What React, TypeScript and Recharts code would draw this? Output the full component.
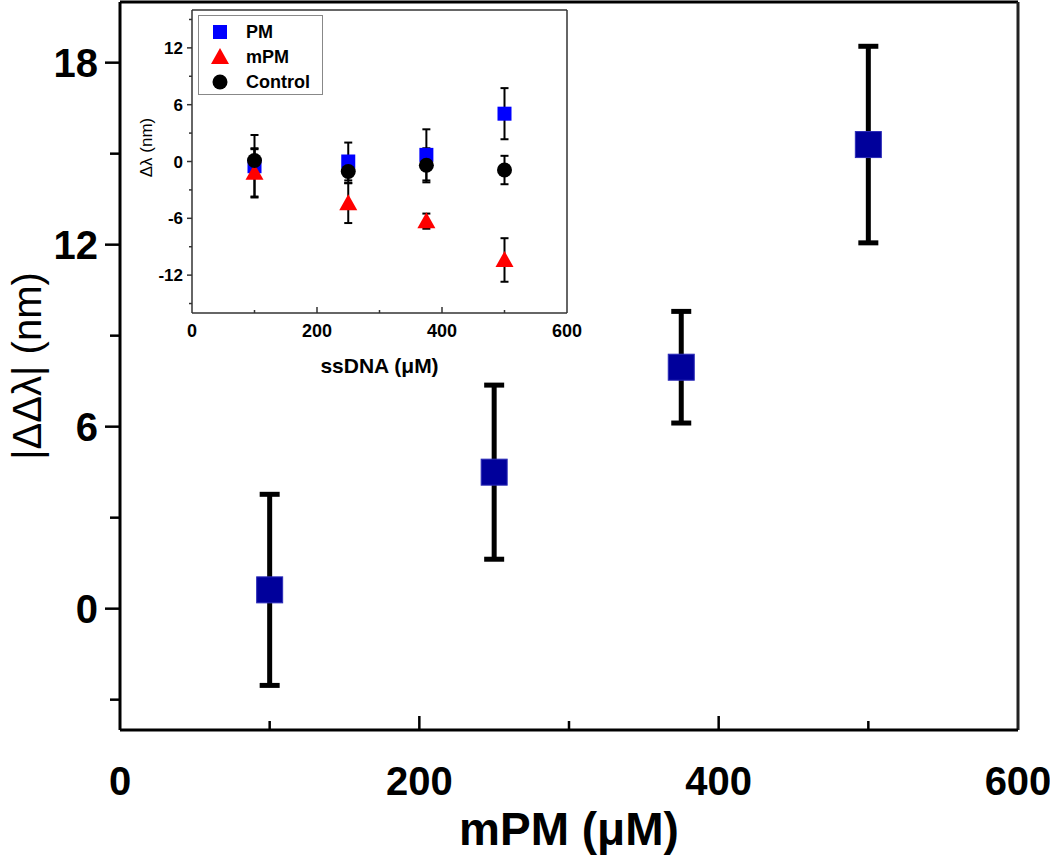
import { ScatterChart, Scatter, XAxis, YAxis, ErrorBar, ReferenceLine, Legend } from "recharts";

const FONT = "'Liberation Sans', Arial, sans-serif";

// main chart: |ΔΔλ| vs mPM concentration
const mainX = [100, 250, 375, 500];
const mainY = [0.62, 4.5, 7.96, 15.3];
const mainErr = [3.15, 2.87, 1.84, 3.24];
const mainXTicks = [0, 100, 200, 300, 400, 500, 600];
const mainYTicks = [-3, 0, 3, 6, 9, 12, 15, 18];

// inset: Δλ vs ssDNA concentration
const insetX = [100, 250, 375, 500];
const pmY = [-0.5, 0.0, 0.7, 5.05];
const pmErr = [3.3, 2.0, 2.7, 2.7];
const mpmY = [-1.2, -4.4, -6.3, -10.4];
const mpmErr = [2.5, 2.1, 0.8, 2.3];
const ctrlY = [0.1, -1.06, -0.4, -0.9];
const ctrlErr = [1.3, 1.2, 1.8, 1.5];
const insetXTicks = [0, 100, 200, 300, 400, 500, 600];
const insetYTicks = [-15, -12, -9, -6, -3, 0, 3, 6, 9, 12, 15];

const toPoints = (xs: number[], ys: number[], errs: number[]) =>
  xs.map((x, i) => ({ x, y: ys[i], err: errs[i] }));

const mainData = toPoints(mainX, mainY, mainErr);
const pmData = toPoints(insetX, pmY, pmErr);
const mpmData = toPoints(insetX, mpmY, mpmErr);
const ctrlData = toPoints(insetX, ctrlY, ctrlErr);

const MainXTick = (props: any) => {
  const { x, y, payload } = props;
  const v = payload.value;
  const major = v % 200 === 0;
  return (
    <g>
      {v > 0 && v < 600 && (
        <line x1={x} y1={y} x2={x} y2={y - (major ? 14 : 9)} stroke="#000" strokeWidth={2.5} />
      )}
      {major && (
        <text x={x} y={y + 65} textAnchor="middle" fontSize={40} fontWeight="bold" fontFamily={FONT} fill="#000">
          {v}
        </text>
      )}
    </g>
  );
};

const MainYTick = (props: any) => {
  const { x, y, payload } = props;
  const v = payload.value;
  const major = v % 6 === 0;
  return (
    <g>
      <line x1={x} y1={y} x2={x - (major ? 15 : 10)} y2={y} stroke="#000" strokeWidth={2.5} />
      {major && (
        <text x={x - 22} y={y} dy="0.36em" textAnchor="end" fontSize={40} fontWeight="bold" fontFamily={FONT} fill="#000">
          {v}
        </text>
      )}
    </g>
  );
};

const InsetXTick = (props: any) => {
  const { x, y, payload } = props;
  const v = payload.value;
  const major = v % 200 === 0;
  return (
    <g>
      {v > 0 && v < 600 && (
        <line x1={x} y1={y} x2={x} y2={y - (major ? 6 : 3)} stroke="#333" strokeWidth={1.5} />
      )}
      {major && (
        <text x={x} y={y + 24} textAnchor="middle" fontSize={18} fontWeight="bold" fontFamily={FONT} fill="#000">
          {v}
        </text>
      )}
    </g>
  );
};

const InsetYTick = (props: any) => {
  const { x, y, payload } = props;
  const v = payload.value;
  const major = v % 6 === 0;
  return (
    <g>
      <line x1={x} y1={y} x2={x - (major ? 5 : 3)} y2={y} stroke="#333" strokeWidth={1.5} />
      {major && (
        <text x={x - 9} y={y} dy="0.36em" textAnchor="end" fontSize={17} fontWeight="bold" fontFamily={FONT} fill="#000">
          {v}
        </text>
      )}
    </g>
  );
};

const BigSquare = (props: any) => {
  const { cx, cy } = props;
  return <rect x={cx - 13} y={cy - 13} width={26} height={26} fill="#00009B" stroke="#2a2ab8" strokeWidth={1} />;
};

const SmallSquare = (props: any) => {
  const { cx, cy } = props;
  return <rect x={cx - 7} y={cy - 7} width={14} height={14} fill="#0000FF" />;
};

const Triangle = (props: any) => {
  const { cx, cy } = props;
  return <polygon points={`${cx},${cy - 9} ${cx + 9},${cy + 7} ${cx - 9},${cy + 7}`} fill="#FF0000" />;
};

const Dot = (props: any) => {
  const { cx, cy } = props;
  return <circle cx={cx} cy={cy} r={7.5} fill="#000" />;
};

const legendItems = [
  { name: "PM", icon: (cx: number, cy: number) => <rect x={cx - 7} y={cy - 7} width={14} height={14} fill="#0000FF" /> },
  { name: "mPM", icon: (cx: number, cy: number) => <polygon points={`${cx},${cy - 9} ${cx + 9},${cy + 7} ${cx - 9},${cy + 7}`} fill="#FF0000" /> },
  { name: "Control", icon: (cx: number, cy: number) => <circle cx={cx} cy={cy} r={7.5} fill="#000" /> },
];

const InsetLegend = () => (
  <svg width={125} height={80} style={{ display: "block" }}>
    <rect x={0.5} y={0.5} width={124} height={79} fill="#fff" stroke="#888" strokeWidth={1} />
    {legendItems.map((item, i) => (
      <g key={item.name}>
        {item.icon(22, 17 + i * 25)}
        <text x={48} y={17 + i * 25} dy="0.36em" fontSize={18} fontWeight="bold" fontFamily={FONT} fill="#000">
          {item.name}
        </text>
      </g>
    ))}
  </svg>
);

export default function App() {
  return (
    <div style={{ position: "absolute", left: 0, top: 0, width: 1050, height: 862, background: "#fff", fontFamily: FONT }}>
      <ScatterChart width={1050} height={862} margin={{ top: 2, right: 32, bottom: 0, left: 0 }}>
        <XAxis
          type="number"
          dataKey="x"
          domain={[0, 600]}
          ticks={mainXTicks}
          interval={0}
          tick={<MainXTick />}
          tickLine={false}
          tickSize={0}
          tickMargin={0}
          axisLine={{ stroke: "#000", strokeWidth: 3 }}
          height={132}
          label={{
            content: (p: any) => {
              const vb = p.viewBox;
              return (
                <text x={vb.x + vb.width / 2} y={vb.y + 115} textAnchor="middle" fontSize={46} fontWeight="bold" fontFamily={FONT} fill="#000">
                  mPM (μM)
                </text>
              );
            },
          }}
        />
        <YAxis
          type="number"
          dataKey="y"
          domain={[-4, 20]}
          ticks={mainYTicks}
          interval={0}
          tick={<MainYTick />}
          tickLine={false}
          tickSize={0}
          tickMargin={0}
          axisLine={{ stroke: "#000", strokeWidth: 3 }}
          width={120}
          label={{
            content: (p: any) => {
              const vb = p.viewBox;
              const lx = 27;
              const ly = vb.y + vb.height / 2;
              return (
                <text x={lx} y={ly} transform={`rotate(-90 ${lx} ${ly})`} textAnchor="middle" dominantBaseline="central" fontSize={40} fontFamily={FONT} fill="#000">
                  |ΔΔλ| (nm)
                </text>
              );
            },
          }}
        />
        <ReferenceLine y={20} stroke="#000" strokeWidth={3} />
        <ReferenceLine x={600} stroke="#222" strokeWidth={3} />
        <Scatter data={mainData} shape={<BigSquare />} isAnimationActive={false}>
          <ErrorBar dataKey="err" direction="y" width={10} strokeWidth={5} stroke="#000" />
        </Scatter>
      </ScatterChart>

      <div style={{ position: "absolute", left: 130, top: 0 }}>
        <ScatterChart width={480} height={390} margin={{ top: 10, right: 43, bottom: 0, left: 0 }}>
          <XAxis
            type="number"
            dataKey="x"
            domain={[0, 600]}
            ticks={insetXTicks}
            interval={0}
            tick={<InsetXTick />}
            tickLine={false}
            tickSize={0}
            tickMargin={0}
            axisLine={{ stroke: "#333", strokeWidth: 1.5 }}
            height={77}
            label={{
              content: (p: any) => {
                const vb = p.viewBox;
                return (
                  <text x={vb.x + vb.width / 2} y={vb.y + 60} textAnchor="middle" fontSize={21} fontWeight="bold" fontFamily={FONT} fill="#000">
                    ssDNA (μM)
                  </text>
                );
              },
            }}
          />
          <YAxis
            type="number"
            dataKey="y"
            domain={[-16, 16]}
            ticks={insetYTicks}
            interval={0}
            tick={<InsetYTick />}
            tickLine={false}
            tickSize={0}
            tickMargin={0}
            axisLine={{ stroke: "#333", strokeWidth: 1.5 }}
            width={62}
            label={{
              content: (p: any) => {
                const vb = p.viewBox;
                const lx = 16;
                const ly = vb.y + vb.height / 2 - 14;
                return (
                  <text x={lx} y={ly} transform={`rotate(-90 ${lx} ${ly})`} textAnchor="middle" dominantBaseline="central" fontSize={17} fontFamily={FONT} fill="#000">
                    Δλ (nm)
                  </text>
                );
              },
            }}
          />
          <ReferenceLine y={16} stroke="#333" strokeWidth={1.5} />
          <ReferenceLine x={600} stroke="#333" strokeWidth={1.5} />
          <Legend
            layout="horizontal"
            verticalAlign="middle"
            align="center"
            wrapperStyle={{ left: 68, top: 15, width: 125, height: 80 }}
            content={() => <InsetLegend />}
          />
          <Scatter name="PM" data={pmData} shape={<SmallSquare />} isAnimationActive={false}>
            <ErrorBar dataKey="err" direction="y" width={4} strokeWidth={2} stroke="#000" />
          </Scatter>
          <Scatter name="mPM" data={mpmData} shape={<Triangle />} isAnimationActive={false}>
            <ErrorBar dataKey="err" direction="y" width={4} strokeWidth={2} stroke="#000" />
          </Scatter>
          <Scatter name="Control" data={ctrlData} shape={<Dot />} isAnimationActive={false}>
            <ErrorBar dataKey="err" direction="y" width={4} strokeWidth={2} stroke="#000" />
          </Scatter>
        </ScatterChart>
      </div>
    </div>
  );
}
